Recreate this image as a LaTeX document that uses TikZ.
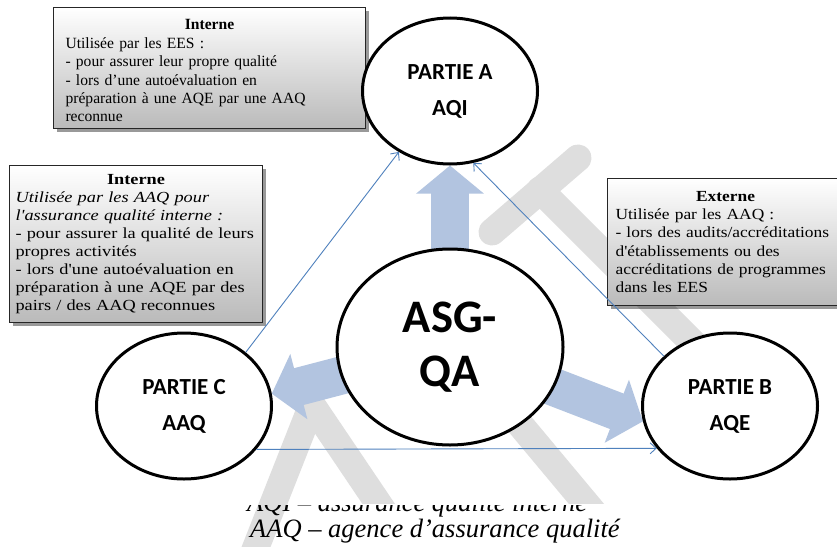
\documentclass[tikz,border=0pt]{standalone}
\usepackage{fontspec}
\setmainfont{Liberation Serif}
\newfontfamily\serifC[FakeStretch=1.19]{Liberation Serif}
\newfontfamily\serifB[FakeStretch=1.13]{Liberation Serif}
\newfontfamily\calib{Carlito}
\usetikzlibrary{arrows.meta,shapes.geometric,shadows,calc}
\pgfdeclarelayer{wm}
\pgfdeclarelayer{bg}
\pgfsetlayers{wm,bg,main}
\definecolor{fatblue}{RGB}{178,196,224}
\definecolor{thinblue}{RGB}{79,129,189}
\definecolor{wmgray}{RGB}{222,222,222}
\tikzset{
  infobox/.style={draw=black!85, line width=1.1pt, top color=white, bottom color=black!27,
    drop shadow={shadow xshift=3pt, shadow yshift=-3pt, fill=black, opacity=0.4},
    anchor=north west, align=left, inner ysep=0pt},
  partie/.style={ellipse, draw=black, line width=3pt, fill=white, inner sep=0pt,
    minimum width=175pt, minimum height=146pt, align=center,
    font=\calib\bfseries\fontsize{23}{36}\selectfont},
  centre/.style={ellipse, draw=black, line width=3pt, fill=white, inner sep=0pt,
    minimum width=226pt, minimum height=196pt, align=center,
    font=\calib\bfseries\fontsize{46.6}{54}\selectfont},
  fat/.style={draw=fatblue, line width=38pt, -{Triangle[length=28pt,width=66pt]}},
  thin/.style={draw=thinblue, line width=0.9pt, -{Straight Barb[length=6pt,width=11pt]}},
  wmband/.style={draw=wmgray, line width=27pt, line cap=round},
  caption/.style={inner sep=0pt, anchor=base west, font=\itshape\fontsize{26.5}{30}\selectfont}
}
\begin{document}
\begin{tikzpicture}[x=1pt,y=1pt]
\useasboundingbox (0,0) rectangle (837,-546);
\begin{pgfonlayer}{wm}
\fill[white] (0,0) rectangle (837,-546);
\end{pgfonlayer}

% boxes
\node[infobox, minimum width=312pt, minimum height=121pt, inner xsep=12pt, text width=288pt,
  font=\fontsize{15.6}{18.4}\selectfont] (boxA) at (53,-7) {%
\rule{0pt}{16pt}\makebox[\linewidth]{\textbf{Interne}}\\
Utilisée par les EES :\\
- pour assurer leur propre qualité\\
- lors d’une autoévaluation en\\
préparation à une AQE par une AAQ\\
reconnue};

\node[infobox, minimum width=253pt, minimum height=157pt, inner xsep=6pt, text width=241pt,
  font=\serifC\fontsize{15.4}{18.1}\selectfont] (boxC) at (9,-165) {%
\makebox[\linewidth]{\textbf{Interne}}\\
\textit{Utilisée par les AAQ pour}\\
\textit{l'assurance qualité interne :}\\
- pour assurer la qualité de leurs\\
propres activités\\
- lors d'une autoévaluation en\\
préparation à une AQE par des\\
pairs / des AAQ reconnues};

\node[infobox, minimum width=236pt, minimum height=127pt, inner xsep=8pt, text width=220pt,
  font=\serifB\fontsize{15.4}{18.3}\selectfont] (boxB) at (607,-178) {%
\makebox[\linewidth]{\textbf{Externe}}\\
Utilisée par les AAQ :\\
- lors des audits/accréditations\\
d'établissements ou des\\
accréditations de programmes\\
dans les EES};

% circles
\node[partie] (partA) at (450,-91) {PARTIE A\\AQI};
\node[partie] (partC) at (184,-406) {PARTIE C\\AAQ};
\node[partie] (partB) at (730,-406) {PARTIE B\\AQE};
\node[centre] (asg) at (450,-347) {ASG-\\QA};

% fat arrows
\begin{pgfonlayer}{bg}
\draw[fat] (asg.center) -- (partA.south);
\draw[fat] (asg.center) -- (partC.8);
\draw[fat] (asg.center) -- (partB.190);
\end{pgfonlayer}

% watermark
\begin{pgfonlayer}{wm}
\draw[wmband] (578,-158) -- (492,-232);
\draw[wmband] (540,-190) -- (700,-350);
\draw[wmband] (243,-580) -- (312,-405);
\begin{scope}
\clip (0,0) rectangle (837,-503);
\draw[wmband] (312,-405) -- (430,-580);
\draw[wmband] (508,-410) -- (650,-580);
\end{scope}
\end{pgfonlayer}

% thin connectors
\draw[thin] (partC.41) -- (partA.230);
\draw[thin] (partB.143) -- (partA.288);
\draw[thin] (partC.329) -- (partB.210);

% captions
\begin{scope}
\clip (230,-505) rectangle (620,-522);
\node[caption] (capA) at (247,-511) {AQI – assurance qualité interne};
\end{scope}
\node[caption] (capB) at (250,-537) {AAQ – agence d’assurance qualité};
\end{tikzpicture}
\end{document}
